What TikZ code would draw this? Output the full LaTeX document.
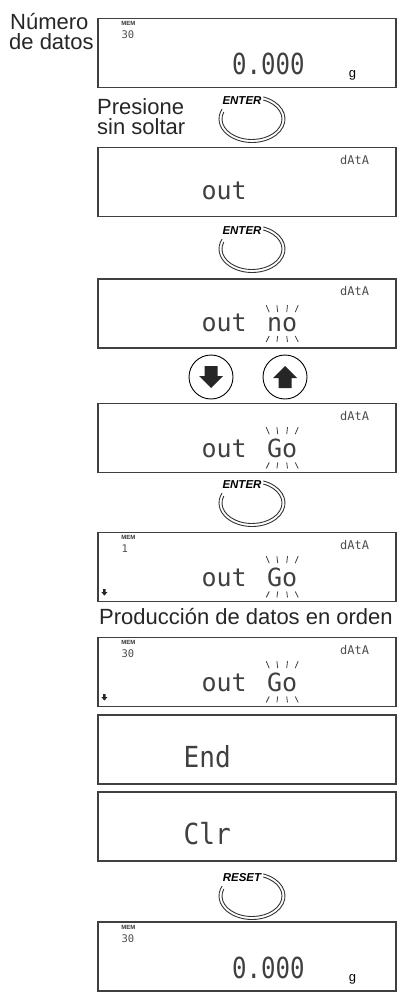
\documentclass[tikz,border=0pt]{standalone}
\usepackage{fontspec}
\setmainfont{Liberation Sans}
\newfontfamily\lcdfont{DejaVu Sans Mono}
\usepackage{graphicx}
\usetikzlibrary{positioning, calc}

\tikzset{
  lcd/.style={draw=black!75, line width=1.2pt, minimum width=298pt, minimum height=69pt, inner sep=0},
  caption/.style={font=\fontsize{22}{22}\selectfont, text=black!85, inner sep=0, anchor=base west},
  seg/.style={font=\lcdfont\fontsize{25}{25}\selectfont, text=black!75, inner sep=0, anchor=base west},
  bigseg/.style={font=\lcdfont\fontsize{29}{29}\selectfont, text=black!75, inner sep=0},
  smallseg/.style={font=\lcdfont\fontsize{12}{12}\selectfont, text=black!70, inner sep=0},
  cntseg/.style={font=\lcdfont\fontsize{10.5}{10.5}\selectfont, text=black!70, inner sep=0},
  memtag/.style={font=\bfseries\fontsize{6}{6}\selectfont, text=black!80, inner sep=0},
  keytxt/.style={font=\bfseries\itshape\fontsize{11.5}{11.5}\selectfont, inner sep=0},
  ring/.style={line width=0.9pt, black!80},
  ray/.style={line width=0.8pt, black!75},
  arrowkey/.style={draw, circle, line width=0.9pt, minimum size=44pt, inner sep=0}
}

\begin{document}
\begin{tikzpicture}[x=1pt, y=-1pt]
\useasboundingbox (0,0) rectangle (398,992);

% LCD displays
\foreach \n/\y in {d1/53, d2/182, d3/313.5, d4/438, d5/567, d6/672, d7/749.5, d8/826.5, d9/956.5} {
   \node[lcd] (\n) at (247,\y) {};
}

% captions on the left
\node[caption] (num) at (10,30) {Número};
\node[caption] (dat) at (9,50) {de datos};
\node[caption] (pre) at (97,115) {Presione};
\node[caption] (sin) at (97,135) {sin soltar};
\node[caption] (prod) at (99,624) {Producción de datos en orden};

% memory counter
\foreach \d/\c in {d1/30, d5/1, d6/30, d9/30} {
   \node[memtag] (\d m) at ([xshift=31pt,yshift=-6pt]\d.north west) {MEM};
   \node[cntseg, anchor=west] (\d c) at ([xshift=24pt,yshift=-17pt]\d.north west) {\c};
}

% weight readout
\foreach \d in {d1, d9} {
   \node[bigseg, anchor=base] (\d w) at ([xshift=171pt,yshift=-57pt]\d.north west) {\scalebox{0.83}[1]{0.000}};
   \node[font=\fontsize{13}{13}\selectfont, inner sep=0, anchor=base] (\d g) at ([xshift=-44pt,yshift=-60pt]\d.north east) {g};
}

% data mode
\foreach \d in {d2, d3, d4, d5, d6} {
   \node[smallseg] (\d a) at ([xshift=-42pt,yshift=-13pt]\d.north east) {dAtA};
}
\node[seg] (o2) at ([xshift=104pt,yshift=-53pt]d2.north west) {out};
\node[seg] (o3) at ([xshift=104pt,yshift=-53pt]d3.north west) {out};
\node[seg, base right=20pt of o3] (n3) {no};
\foreach \i in {4,5,6} {
   \node[seg] (o\i) at ([xshift=104pt,yshift=-55pt]d\i.north west) {out};
   \node[seg, base right=20pt of o\i] (n\i) {Go};
}

% blinking marks
\foreach \g in {n3, n4, n5, n6} {
   \foreach \dx/\sl in {-13/-3, -4.5/-0.8, 4.5/0.8, 13/3} {
      \draw[ray] ([xshift=\dx pt,yshift=5pt]\g.north) -- ++(\sl,-7);
      \draw[ray] ([xshift=\dx pt,yshift=-4pt]\g.south) -- ++(\sl,6);
   }
}

% scroll mark
\foreach \d in {d5, d6} {
   \fill[black!85, shift={([xshift=7pt,yshift=10pt]\d.south west)}] (-1.2,-3) -- (1.2,-3) -- (1.2,0) -- (3,0) -- (0,3.5) -- (-3,0) -- (-1.2,0) -- cycle;
}

% End / Clr
\node[bigseg, anchor=base west] (e7) at ([xshift=86pt,yshift=-53pt]d7.north west) {\scalebox{0.9}[1]{End}};
\node[bigseg, anchor=base west] (c8) at ([xshift=86pt,yshift=-53pt]d8.north west) {\scalebox{0.9}[1]{Clr}};

% keys
\foreach \nm/\y/\key in {k1/119/ENTER, k2/249/ENTER, k3/503/ENTER, k4/896/RESET} {
   \coordinate (\nm) at (252,\y);
   \draw[ring] (\nm) ++(-70:33 and 23.5) arc[start angle=-70, end angle=205, x radius=33, y radius=23.5];
   \draw[ring] (\nm) ++(-68:30 and 20.5) arc[start angle=-68, end angle=200, x radius=30, y radius=20.5];
   \node[keytxt] (\nm t) at ([xshift=-10pt,yshift=18pt]\nm) {\key};
}

% arrow keys
\node[arrowkey] (dn) at (211,377) {};
\node[arrowkey] (up) at (285,377) {};
\fill[black!85, shift={(dn.center)}] (-6.5,-11) -- (6.5,-11) -- (6.5,-1) -- (12,-1) -- (0,11) -- (-12,-1) -- (-6.5,-1) -- cycle;
\fill[black!85, shift={(up.center)}] (-6.5,11) -- (6.5,11) -- (6.5,1) -- (12,1) -- (0,-11) -- (-12,1) -- (-6.5,1) -- cycle;
\end{tikzpicture}
\end{document}
